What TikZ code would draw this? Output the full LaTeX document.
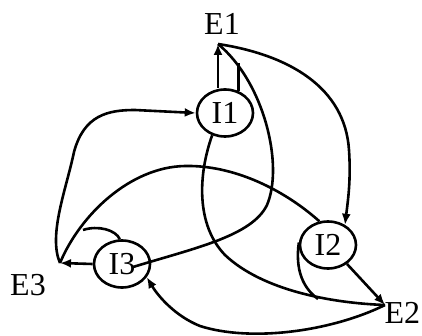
\documentclass[tikz,border=0pt]{standalone}
\usepackage{fontspec}
\setmainfont{Liberation Serif}
\usetikzlibrary{shapes.geometric,arrows.meta}
\begin{document}
\begin{tikzpicture}[x=0.5pt,y=-0.5pt,line width=1.3pt,
  inh/.style={ellipse,draw,line width=1.3pt,minimum width=28pt,minimum height=23.5pt,inner sep=0pt,font=\fontsize{16}{18}\selectfont},
  lbl/.style={font=\fontsize{16}{18}\selectfont,inner sep=0pt},
  arr/.style={-{Latex[length=5.5pt,width=4.5pt]}}]
\useasboundingbox (0,0) rectangle (422,336);
\node[lbl] (E1) at (222,24) {E1};
\node[lbl,anchor=east] (E2) at (421.5,313) {E2};
\node[lbl] (E3) at (28,285) {E3};
\coordinate (e1) at (218,44);
\coordinate (e2) at (385,305);
\coordinate (e3) at (60,263);
\node[inh] (I1) at (225,113) {I1};
\node[inh] (I2) at (328,245) {I2};
\node[inh] (I3) at (122,264) {I3};
% excitatory to inhibitory
\draw[arr] (e3) .. controls (48,235) and (66,190) .. (74,152) .. controls (84,115) and (108,110) .. (135,110) -- (I1.west);
\draw[arr] (e1) .. controls (290,55) and (345,88) .. (349,150) .. controls (351,180) and (348,200) .. (I2.50);
\draw[arr] (e2) .. controls (330,332) and (250,342) .. (200,326) .. controls (175,316) and (158,296) .. (I3.-28);
% inhibitory to own E
\draw[arr] (I1.north -| e1) -- (e1);
\draw[arr] (I2.-45) -- (e2);
\draw[arr] (I3.west) -- (e3);
% inhibitory to next E
\draw (I1.-120) .. controls (198,175) and (196,225) .. (225,255) .. controls (262,290) and (330,303) .. (e2);
\draw ([shift={(11,3)}]I3.center) .. controls (195,248) and (252,236) .. (267,205) .. controls (284,165) and (264,82) .. (e1);
\draw (I2.110) .. controls (282,188) and (232,165) .. (185,166) .. controls (130,167) and (80,215) .. (e3);
% merging branches
\draw (I1.58) -- ++(0,-28);
\draw (I2.175) .. controls (295,270) and (303,288) .. (318,299);
\draw (I3.95) .. controls (116,230) and (98,225) .. (83,230);
\end{tikzpicture}
\end{document}
